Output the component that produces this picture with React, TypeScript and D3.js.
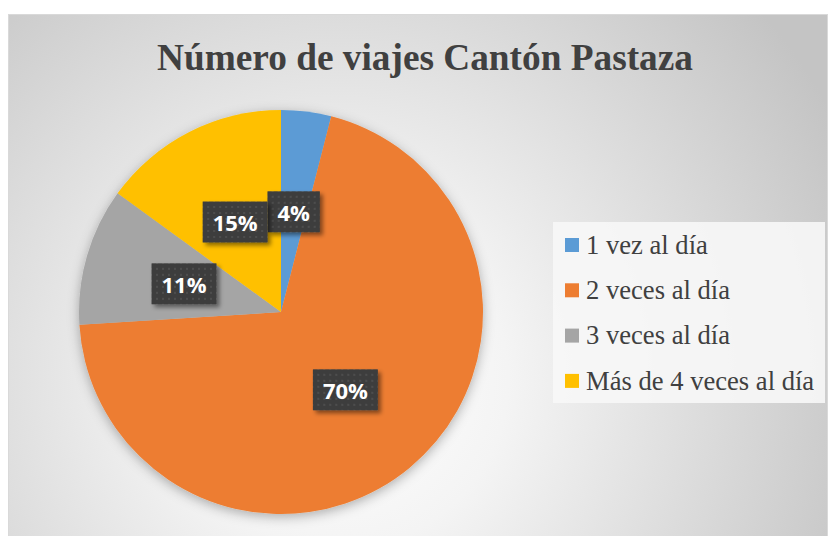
import React, { useEffect, useRef } from "react";
import * as d3 from "d3";

const categories = ["1 vez al día", "2 veces al día", "3 veces al día", "Más de 4 veces al día"];
const values = [4, 70, 11, 15];
const labels = ["4%", "70%", "11%", "15%"];
const colors = ["#5b9bd5", "#ed7d31", "#a5a5a5", "#ffc000"];
const title = "Número de viajes Cantón Pastaza";

export default function App() {
  const ref = useRef<SVGSVGElement>(null);
  useEffect(() => {
    const svg = d3.select(ref.current);
    svg.selectAll("*").remove();
    const defs = svg.append("defs");

    const grad = defs
      .append("radialGradient")
      .attr("id", "bg")
      .attr("gradientUnits", "userSpaceOnUse")
      .attr("cx", 340)
      .attr("cy", 380)
      .attr("r", 560);
    grad.append("stop").attr("offset", 0).attr("stop-color", "#ffffff");
    grad.append("stop").attr("offset", 0.3).attr("stop-color", "#f4f4f4");
    grad.append("stop").attr("offset", 1).attr("stop-color", "#c4c4c4");

    const pieShadow = defs.append("filter").attr("id", "pieShadow").attr("x", "-20%").attr("y", "-20%").attr("width", "140%").attr("height", "140%");
    pieShadow.append("feDropShadow").attr("dx", 0).attr("dy", 3).attr("stdDeviation", 6).attr("flood-color", "#000").attr("flood-opacity", 0.3);

    const boxShadow = defs.append("filter").attr("id", "boxShadow").attr("x", "-30%").attr("y", "-30%").attr("width", "160%").attr("height", "160%");
    boxShadow.append("feDropShadow").attr("dx", 3).attr("dy", 3).attr("stdDeviation", 2).attr("flood-color", "#000").attr("flood-opacity", 0.45);

    const pat = defs.append("pattern").attr("id", "dots").attr("patternUnits", "userSpaceOnUse").attr("width", 6).attr("height", 6);
    pat.append("rect").attr("width", 6).attr("height", 6).attr("fill", "#3d3d3d");
    pat.append("circle").attr("cx", 3).attr("cy", 3).attr("r", 1).attr("fill", "#545454");

    // chart area
    svg.append("rect").attr("x", 8.5).attr("y", 14.5).attr("width", 819).attr("height", 530).attr("fill", "url(#bg)").attr("stroke", "#d9d9d9");

    svg
      .append("text")
      .attr("x", 425)
      .attr("y", 70)
      .attr("text-anchor", "middle")
      .attr("font-family", "'Liberation Serif', 'Times New Roman', serif")
      .attr("font-weight", "bold")
      .attr("font-size", 37.3)
      .attr("fill", "#404040")
      .text(title);

    const cx = 281, cy = 312, r = 202;
    const data = categories.map((c, i) => ({ c, v: values[i], color: colors[i], label: labels[i] }));
    const pie = d3.pie<any>().sort(null).value((d: any) => d.v);
    const arcs = pie(data);
    const arc = d3.arc<any>().innerRadius(0).outerRadius(r);
    const g = svg.append("g").attr("transform", `translate(${cx},${cy})`);
    g.append("g")
      .attr("filter", "url(#pieShadow)")
      .selectAll("path")
      .data(arcs)
      .join("path")
      .attr("d", arc as any)
      .attr("fill", (d: any) => d.data.color);

    const lg = g.append("g");
    arcs.forEach((a: any) => {
      const [x, y] = arc.centroid(a);
      const gg = lg.append("g").attr("transform", `translate(${x},${y})`);
      const rect = gg.append("rect").attr("fill", "url(#dots)").attr("filter", "url(#boxShadow)");
      const t = gg
        .append("text")
        .attr("text-anchor", "middle")
        .attr("dy", "0.36em")
        .attr("y", 1)
        .attr("font-family", "'Open Sans', sans-serif")
        .attr("font-weight", "bold")
        .attr("font-size", 22)
        .attr("fill", "#ffffff")
        .text(a.data.label);
      const w = (t.node() as SVGTextElement).getComputedTextLength() + 20;
      const h = 41;
      rect.attr("x", -w / 2).attr("y", -h / 2).attr("width", w).attr("height", h);
    });

    // legend
    const leg = svg.append("g");
    leg.append("rect").attr("x", 553).attr("y", 222).attr("width", 272).attr("height", 181).attr("fill", "#f7f7f7").attr("fill-opacity", 0.9);
    const y0 = 245, step = 45.3;
    data.forEach((d, i) => {
      const y = y0 + i * step;
      leg.append("rect").attr("x", 565).attr("y", y - 7).attr("width", 14).attr("height", 14).attr("fill", d.color);
      leg
        .append("text")
        .attr("x", 586)
        .attr("y", y)
        .attr("dy", "0.33em")
        .attr("font-family", "'Liberation Serif', 'Times New Roman', serif")
        .attr("font-size", 26.6)
        .attr("fill", "#404040")
        .text(d.c);
    });
  }, []);
  return <svg ref={ref} width={830} height={536} style={{ position: "absolute", left: 0, top: 0 }} />;
}
